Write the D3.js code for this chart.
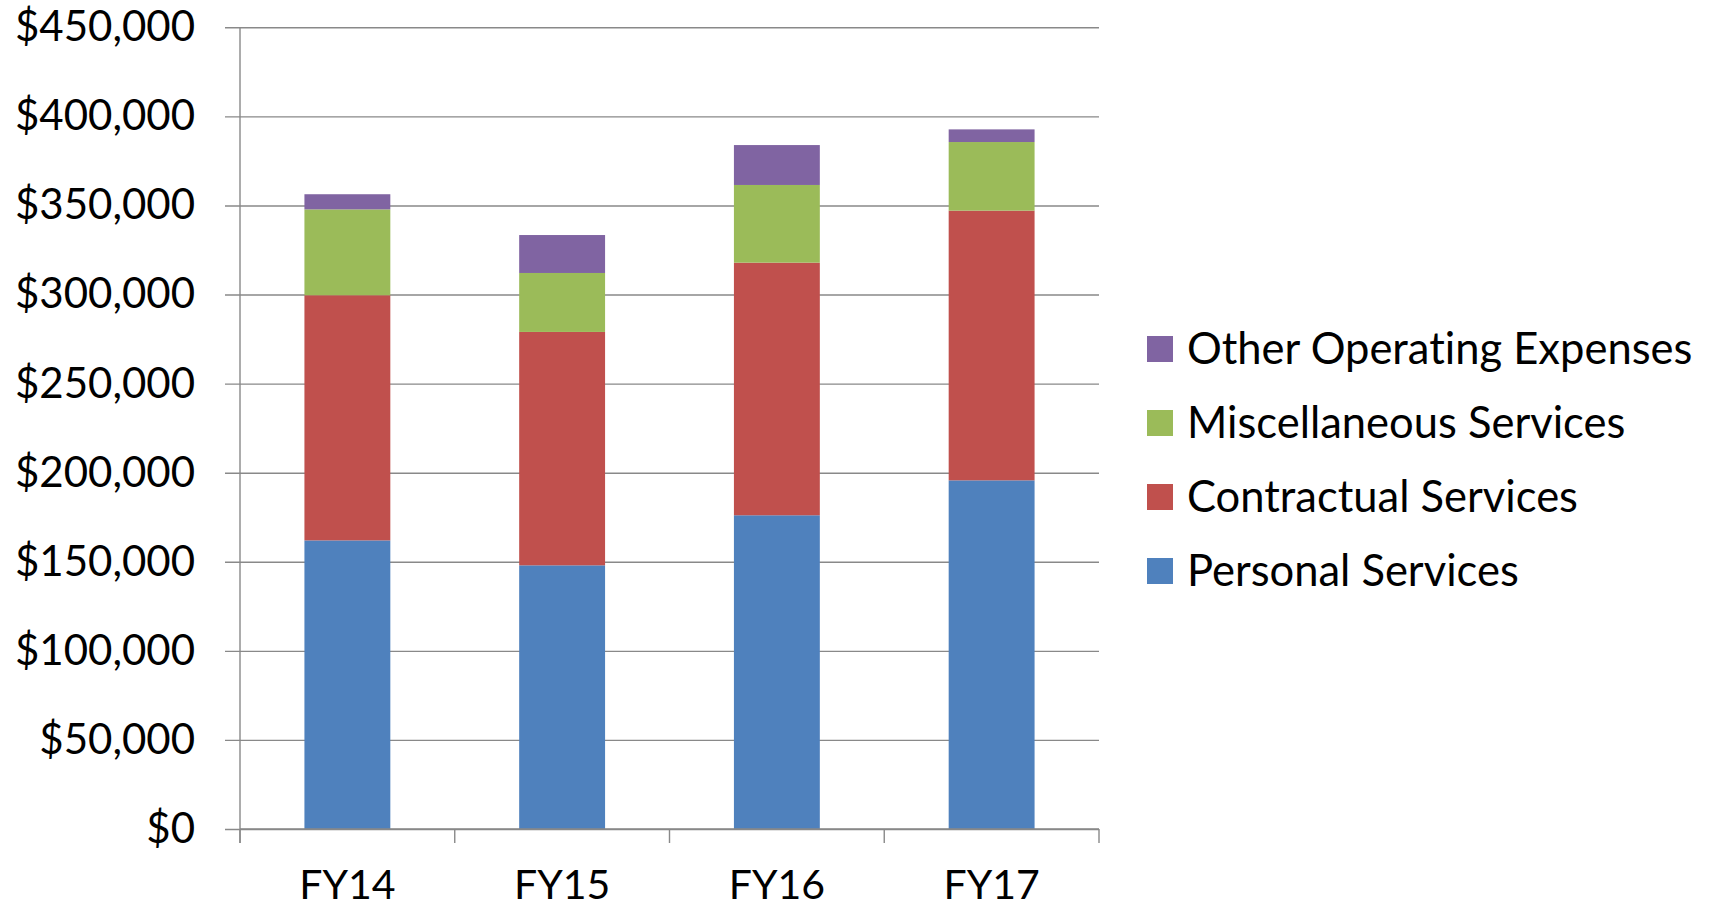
<!DOCTYPE html>
<html>
<head>
<meta charset="utf-8">
<script src="https://cdn.jsdelivr.net/npm/d3@7"></script>
<style>
  html, body { margin: 0; padding: 0; background: #fff; }
  svg { display: block; }
  text { font-family: Lato, "Open Sans", sans-serif; fill: #000; font-variant-ligatures: none; }
</style>
</head>
<body>
<svg id="chart" width="1716" height="909"></svg>
<script>
// Budget by fiscal year, split by expense category
const years = ["FY14", "FY15", "FY16", "FY17"];
const seriesNames = ["Personal Services", "Contractual Services", "Miscellaneous Services", "Other Operating Expenses"];
const personal      = [162000, 148000, 176100, 195700];
const contractual   = [137600, 131000, 141800, 151400];
const miscellaneous = [48200, 33100, 43600, 38500];
const otherOperating = [8500, 21300, 22400, 7100];
const yTicks = [0, 50000, 100000, 150000, 200000, 250000, 300000, 350000, 400000, 450000];
const colors = ["#4F81BD", "#C0504D", "#9BBB59", "#8064A2"];

const rows = years.map((yr, i) => ({
  year: yr,
  "Personal Services": personal[i],
  "Contractual Services": contractual[i],
  "Miscellaneous Services": miscellaneous[i],
  "Other Operating Expenses": otherOperating[i]
}));

const svg = d3.select("#chart");
const plotLeft = 240, plotRight = 1099, plotTop = 27.3, plotBottom = 829;

const x = d3.scaleBand().domain(years).range([plotLeft, plotRight]).paddingInner(0.6).paddingOuter(0.3);
const y = d3.scaleLinear().domain([0, 450000]).range([plotBottom, plotTop]);
const color = d3.scaleOrdinal().domain(seriesNames).range(colors);
const gridColor = "#898989";

// horizontal gridlines with short ticks to the left of the axis
const yAxis = d3.axisLeft(y).tickValues(yTicks).tickSize(-(plotRight - plotLeft)).tickSizeOuter(0)
  .tickFormat(d => "$" + d3.format(",")(d)).tickPadding(45);
const gy = svg.append("g").attr("transform", `translate(${plotLeft},0)`).call(yAxis);
gy.select(".domain").remove();
gy.selectAll(".tick line").attr("stroke", gridColor).attr("stroke-width", 1.4).attr("x1", -15);
gy.selectAll(".tick text").attr("font-size", 42).attr("font-family", "Lato, sans-serif").attr("fill", "#000");

// stacked bars
const stack = d3.stack().keys(seriesNames)(rows);
svg.append("g").selectAll("g").data(stack).join("g")
  .attr("fill", d => color(d.key))
  .selectAll("rect").data(d => d).join("rect")
  .attr("x", d => x(d.data.year))
  .attr("width", x.bandwidth())
  .attr("y", d => y(d[1]))
  .attr("height", d => y(d[0]) - y(d[1]));

// vertical axis line
svg.append("line").attr("x1", plotLeft).attr("x2", plotLeft).attr("y1", plotTop).attr("y2", plotBottom + 14)
  .attr("stroke", gridColor).attr("stroke-width", 1.4);

// category axis with ticks between bands
const xAxisG = svg.append("g");
xAxisG.append("line").attr("x1", plotLeft).attr("x2", plotRight).attr("y1", plotBottom).attr("y2", plotBottom)
  .attr("stroke", gridColor).attr("stroke-width", 1.4);
const step = x.step();
xAxisG.selectAll("line.tk").data(d3.range(years.length + 1)).join("line").attr("class", "tk")
  .attr("x1", i => plotLeft + i * step).attr("x2", i => plotLeft + i * step)
  .attr("y1", plotBottom).attr("y2", plotBottom + 14)
  .attr("stroke", gridColor).attr("stroke-width", 1.4);
xAxisG.selectAll("text").data(years).join("text")
  .attr("x", d => x(d) + x.bandwidth() / 2)
  .attr("y", 899)
  .attr("text-anchor", "middle")
  .attr("font-size", 41)
  .text(d => d);

// legend, top entry is the top of the stack
const legendItems = seriesNames.slice().reverse();
const lg = svg.append("g").attr("transform", "translate(1147,349)");
const item = lg.selectAll("g").data(legendItems).join("g")
  .attr("transform", (d, i) => `translate(0,${i * 74})`);
item.append("rect").attr("x", 0).attr("y", -13).attr("width", 26).attr("height", 26)
  .attr("fill", d => color(d));
item.append("text").attr("x", 40).attr("y", 0).attr("dy", "0.35em")
  .attr("font-size", 43.5).text(d => d);
</script>
</body>
</html>
